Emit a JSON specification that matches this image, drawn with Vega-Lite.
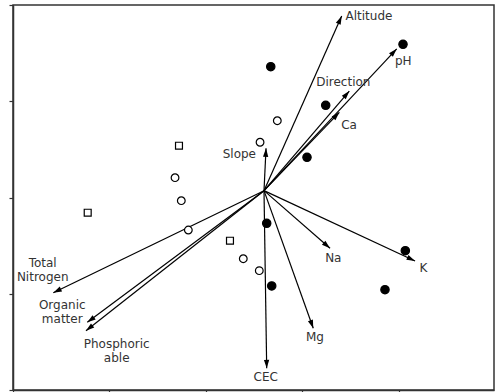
{
  "$schema": "https://vega.github.io/schema/vega-lite/v6.json",
  "width": 481,
  "height": 385,
  "autosize": {"type": "none"},
  "padding": {"left": 13, "top": 5, "right": 5, "bottom": 2},
  "background": "white",
  "config": {
    "view": {"stroke": "#333", "strokeWidth": 1.5},
    "axis": {"labels": false, "grid": false, "title": null, "domainColor": "#333", "domainWidth": 1.5, "tickColor": "#333", "tickWidth": 1.2, "tickSize": 4}
  },
  "datasets": {
    "arrows": [
      {"var": "Altitude", "tx": 3.410, "ty": 3.886, "lx": 3.693, "ly": 3.886, "label": ["Altitude"]},
      {"var": "pH", "tx": 3.981, "ty": 3.545, "lx": 4.049, "ly": 3.418, "label": ["pH"]},
      {"var": "Direction", "tx": 3.489, "ty": 3.106, "lx": 3.427, "ly": 3.197, "label": ["Direction"]},
      {"var": "Ca", "tx": 3.386, "ty": 2.885, "lx": 3.486, "ly": 2.753, "label": ["Ca"]},
      {"var": "Slope", "tx": 2.625, "ty": 2.511, "lx": 2.348, "ly": 2.449, "label": ["Slope"]},
      {"var": "Na", "tx": 3.289, "ty": 1.472, "lx": 3.323, "ly": 1.375, "label": ["Na"]},
      {"var": "K", "tx": 4.171, "ty": 1.340, "lx": 4.257, "ly": 1.271, "label": ["K"]},
      {"var": "Mg", "tx": 3.115, "ty": 0.641, "lx": 3.133, "ly": 0.548, "label": ["Mg"]},
      {"var": "CEC", "tx": 2.632, "ty": 0.225, "lx": 2.622, "ly": 0.138, "label": ["CEC"]},
      {"var": "Total Nitrogen", "tx": 0.418, "ty": 1.011, "lx": 0.308, "ly": 1.316, "label": ["Total", "Nitrogen"]},
      {"var": "Organic matter", "tx": 0.771, "ty": 0.703, "lx": 0.511, "ly": 0.880, "label": ["Organic", "matter"]},
      {"var": "Phosphoric able", "tx": 0.757, "ty": 0.616, "lx": 1.076, "ly": 0.482, "label": ["Phosphoric", "able"]}
    ],
    "sites": [
      {"group": "A", "x": 2.674, "y": 3.359},
      {"group": "A", "x": 4.046, "y": 3.592},
      {"group": "A", "x": 3.244, "y": 2.958},
      {"group": "A", "x": 3.050, "y": 2.418},
      {"group": "A", "x": 2.632, "y": 1.732},
      {"group": "A", "x": 2.684, "y": 1.081},
      {"group": "A", "x": 4.070, "y": 1.447},
      {"group": "A", "x": 3.859, "y": 1.042},
      {"group": "B", "x": 2.742, "y": 2.798},
      {"group": "B", "x": 2.563, "y": 2.574},
      {"group": "B", "x": 1.681, "y": 2.206},
      {"group": "B", "x": 1.746, "y": 1.967},
      {"group": "B", "x": 1.819, "y": 1.662},
      {"group": "B", "x": 2.389, "y": 1.364},
      {"group": "B", "x": 2.555, "y": 1.240},
      {"group": "C", "x": 1.722, "y": 2.538},
      {"group": "C", "x": 0.775, "y": 1.842},
      {"group": "C", "x": 2.251, "y": 1.551}
    ]
  },
  "layer": [
    {
      "data": {"name": "arrows"},
      "mark": {"type": "rule", "color": "black", "strokeWidth": 1.2},
      "encoding": {
        "x": {"field": "tx", "type": "quantitative", "scale": {"domain": [0, 4.99], "nice": false, "zero": false}, "axis": {"values": [0, 1, 2, 3, 4], "orient": "bottom"}},
        "y": {"field": "ty", "type": "quantitative", "scale": {"domain": [0, 4], "nice": false, "zero": false}, "axis": {"values": [0, 1, 2, 3, 4], "orient": "left"}},
        "x2": {"datum": 2.604},
        "y2": {"datum": 2.071}
      }
    },
    {
      "data": {"name": "arrows"},
      "transform": [
        {"calculate": "(atan2((datum.tx - 2.604) * 96.39, (datum.ty - 2.071) * 96.25) * 180 / PI + 360) % 360", "as": "ang"}
      ],
      "mark": {"type": "point", "shape": "M0,0L-1,3.2L1,3.2Z", "filled": true, "color": "black", "size": 28, "opacity": 1},
      "encoding": {
        "x": {"field": "tx", "type": "quantitative"},
        "y": {"field": "ty", "type": "quantitative"},
        "angle": {"field": "ang", "type": "quantitative", "scale": null}
      }
    },
    {
      "data": {"name": "arrows"},
      "mark": {"type": "text", "font": "DejaVu Sans", "fontSize": 12, "color": "#333", "align": "center", "baseline": "middle", "lineHeight": 14},
      "encoding": {
        "x": {"field": "lx", "type": "quantitative"},
        "y": {"field": "ly", "type": "quantitative"},
        "text": {"field": "label"}
      }
    },
    {
      "data": {"name": "sites"},
      "mark": {"type": "point", "filled": true, "stroke": "black", "strokeWidth": 1.2, "opacity": 1},
      "encoding": {
        "x": {"field": "x", "type": "quantitative"},
        "y": {"field": "y", "type": "quantitative"},
        "shape": {"field": "group", "type": "nominal", "scale": {"domain": ["A", "B", "C"], "range": ["circle", "circle", "square"]}, "legend": null},
        "fill": {"field": "group", "type": "nominal", "scale": {"domain": ["A", "B", "C"], "range": ["black", "white", "white"]}, "legend": null},
        "size": {"field": "group", "type": "nominal", "scale": {"domain": ["A", "B", "C"], "range": [70, 48, 56]}, "legend": null}
      }
    }
  ]
}
